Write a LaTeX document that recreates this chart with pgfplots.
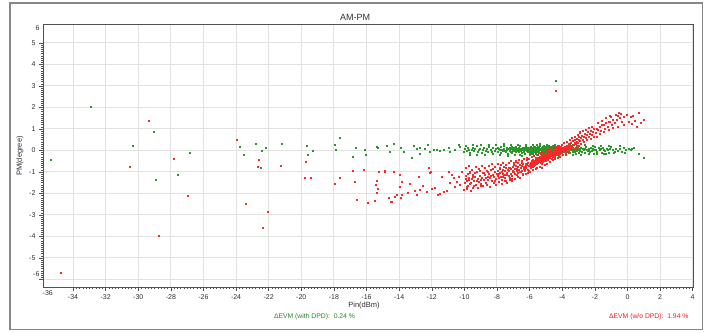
\documentclass[border=0pt]{standalone}
\usepackage{pgfplots}
\pgfplotsset{compat=1.18}
\usepackage{fontspec}
\setmainfont{Liberation Sans}
\definecolor{gridc}{RGB}{226,226,226}
\definecolor{axc}{RGB}{80,80,80}
\definecolor{txt}{RGB}{45,45,55}
\definecolor{gpt}{RGB}{40,150,40}
\definecolor{rpt}{RGB}{250,40,40}
\definecolor{frm}{RGB}{135,135,135}
\definecolor{gtxt}{RGB}{40,130,40}
\definecolor{rtxt}{RGB}{250,25,25}
\begin{document}
\begin{tikzpicture}[x=1pt,y=1pt]
\useasboundingbox (0,0) rectangle (709,332);
\draw[frm, line width=1.3pt] (10,2.5) rectangle (702.5,329);
\begin{axis}[
 at={(43pt,45pt)}, anchor=south west,
 width=650pt, height=263pt, scale only axis,
 xmin=-35.84, xmax=4.02, ymin=-6.35, ymax=5.88,
 xtick={-34,-32,...,4},
 xticklabels={-34,-32,-30,-28,-26,-24,-22,-20,-18,-16,-14,-12,-10,-8,-6,-4,-2,0,2,4},
 ytick={-6,-5,...,5},
 yticklabels={,-5,-4,-3,-2,-1,0,1,2,3,4,5},
 extra x ticks={-35.55}, extra x tick labels={-36},
 extra y ticks={-5.75,5.7}, extra y tick labels={-6,6},
 extra tick style={grid=none, major tick length=0pt},
 minor x tick num=9, minor y tick num=9,
 xtick pos=left, ytick pos=left,
 grid=major, major grid style={gridc, line width=1pt},
 axis line style={axc, line width=0.9pt},
 tick align=outside, major tick length=4pt, minor tick length=2pt,
 tick style={axc, line width=0.5pt},
 every tick label/.append style={font=\fontsize{7}{8}\selectfont, text=txt},
 /pgf/number format/assume math mode=true,
 clip=true,
]
% with DPD (green)
\addplot[only marks, mark=square*, mark size=0.5pt, color=gpt] coordinates {
(-32.9,2.04) (-30.32,0.20) (-29.03,0.87) (-35.35,-0.44) (-26.82,-0.09) (-28.93,-1.37) (-27.58,-1.14)
(-23.8,0.16) (-22.77,0.30) (-22.2,0.15) (-21.18,0.30) (-22.45,0.0) (-23.55,-0.22) (-22.5,-0.78)
(-19.66,0.22) (-19.3,-0.01) (-19.6,-0.18) (-17.97,0.27) (-17.62,0.57) (-17.9,0.05) (-4.41,3.23)
(-16.64,0.15) (-16.09,0.02) (-15.39,0.18) (-15.31,0.13) (-14.76,0.24) (-14.35,0.30) (-13.92,0.13)
(-13.73,-0.04) (-13.08,0.21) (-12.92,0.09) (-12.71,0.15) (-12.41,0.10) (-12.26,0.29) (-12.14,-0.05)
(-11.89,0.02) (-11.69,0.05) (-11.49,-0.01) (-11.28,0.02) (-10.97,0.15) (-10.87,-0.05) (-10.57,0.02)
(-10.36,0.29) (-10.26,0.18) (-10.05,-0.05) (-16.86,-0.29) (-16.03,-0.21) (-14.59,-0.07) (-13.26,-0.33) (-12.71,-0.13)
(-9.95,0.08) (-9.88,-0.03) (-9.81,0.12) (-9.74,0.02) (-9.66,-0.09) (-9.58,0.05) (-9.51,0.15) (-9.43,-0.02)
(-9.36,0.07) (-9.27,0.21) (-9.19,-0.06) (-9.12,0.03) (-9.03,0.10) (-8.96,-0.12) (-8.88,0.04) (-8.81,0.14)
(-8.72,0.00) (-8.64,0.09) (-8.57,-0.05) (-8.49,0.18) (-8.41,0.03) (-8.33,-0.08) (-8.25,0.11) (-8.16,0.01) (-8.07,0.06)
(-7.98,0.13) (-7.94,-0.04) (-7.89,0.07) (-7.85,0.02) (-7.79,-0.11) (-7.75,0.16) (-7.70,0.05) (-7.66,-0.02)
(-7.61,0.09) (-7.57,0.22) (-7.52,0.00) (-7.48,-0.07) (-7.43,0.11) (-7.39,0.04) (-7.34,-0.15) (-7.30,0.08)
(-7.25,0.01) (-7.21,0.14) (-7.17,-0.05) (-7.13,0.06) (-7.09,0.19) (-7.06,-0.01) (-7.03,0.10) (-7.01,0.03) (-7.12,-0.09)
(-6.98,0.05) (-6.95,0.12) (-6.92,-0.03) (-6.89,0.08) (-6.86,0.17) (-6.83,-0.08) (-6.80,0.02) (-6.77,0.10)
(-6.74,-0.01) (-6.71,0.06) (-6.68,0.14) (-6.65,-0.06) (-6.62,0.04) (-6.59,0.20) (-6.56,0.00) (-6.53,0.09)
(-6.50,-0.11) (-6.47,0.07) (-6.44,0.13) (-6.41,0.02) (-6.38,-0.04) (-6.35,0.11) (-6.32,0.05) (-6.29,-0.14)
(-6.26,0.08) (-6.23,0.16) (-6.20,0.01) (-6.17,0.06) (-6.14,-0.07) (-6.11,0.12) (-6.08,0.03) (-6.05,0.09)
(-6.03,-0.02) (-6.01,0.15) (-6.60,-0.19)
(-5.98,0.04) (-5.96,0.11) (-5.94,-0.05) (-5.92,0.07) (-5.90,0.01) (-5.88,0.14) (-5.86,-0.02) (-5.84,0.09)
(-5.82,0.03) (-5.80,-0.09) (-5.78,0.06) (-5.76,0.18) (-5.74,0.00) (-5.72,0.08) (-5.70,-0.04) (-5.68,0.12)
(-5.66,0.05) (-5.64,-0.12) (-5.62,0.02) (-5.60,0.10) (-5.58,0.07) (-5.56,-0.01) (-5.54,0.15) (-5.52,0.04)
(-5.50,-0.07) (-5.48,0.09) (-5.46,0.01) (-5.44,0.13) (-5.42,-0.03) (-5.40,0.06) (-5.38,0.21) (-5.36,0.02)
(-5.34,-0.10) (-5.32,0.08) (-5.30,0.03) (-5.28,0.11) (-5.26,-0.05) (-5.24,0.05) (-5.22,0.16) (-5.20,-0.01)
(-5.18,0.07) (-5.16,0.00) (-5.14,0.12) (-5.12,-0.08) (-5.10,0.04) (-5.08,0.10) (-5.06,-0.02) (-5.04,0.06)
(-5.02,0.14) (-5.01,-0.06) (-5.55,0.25) (-5.85,-0.17) (-5.27,-0.16) (-5.67,0.19) (-5.13,0.23)
(-4.99,0.05) (-4.97,-0.03) (-4.95,0.10) (-4.93,0.02) (-4.91,0.15) (-4.89,-0.07) (-4.87,0.06) (-4.85,0.01)
(-4.83,0.12) (-4.81,-0.02) (-4.79,0.08) (-4.77,0.04) (-4.75,-0.11) (-4.73,0.09) (-4.71,0.17) (-4.69,0.00)
(-4.67,0.06) (-4.65,-0.05) (-4.63,0.11) (-4.61,0.03) (-4.59,0.07) (-4.57,-0.08) (-4.55,0.13) (-4.53,0.02)
(-4.51,-0.01) (-4.49,0.09) (-4.47,0.05) (-4.45,0.18) (-4.43,-0.04) (-4.41,0.07) (-4.39,0.01) (-4.37,0.12)
(-4.35,-0.09) (-4.33,0.04) (-4.31,0.10) (-4.29,-0.02) (-4.27,0.06) (-4.25,0.14) (-4.23,0.00) (-4.21,0.08)
(-4.19,-0.06) (-4.17,0.03) (-4.15,0.11) (-4.13,0.05) (-4.11,-0.03) (-4.09,0.16) (-4.07,0.02) (-4.05,0.09)
(-4.03,-0.07) (-4.01,0.04) (-4.72,-0.18) (-4.26,0.22) (-4.84,0.24) (-4.52,-0.15) (-4.14,-0.14)
(-3.97,0.06) (-3.94,-0.02) (-3.91,0.11) (-3.88,0.03) (-3.85,-0.08) (-3.82,0.09) (-3.79,0.15) (-3.76,0.01)
(-3.73,0.07) (-3.70,-0.05) (-3.67,0.12) (-3.64,0.04) (-3.61,-0.01) (-3.58,0.10) (-3.55,0.05) (-3.52,-0.10)
(-3.49,0.08) (-3.46,0.18) (-3.43,0.02) (-3.40,0.06) (-3.37,-0.04) (-3.34,0.13) (-3.31,0.03) (-3.28,0.09)
(-3.25,-0.07) (-3.22,0.05) (-3.19,0.14) (-3.16,0.00) (-3.13,0.08) (-3.10,-0.03) (-3.07,0.11) (-3.04,0.04)
(-3.01,-0.12) (-3.60,0.21) (-3.20,-0.17)
(-2.95,0.07) (-2.90,0.01) (-2.85,0.13) (-2.80,-0.05) (-2.75,0.09) (-2.70,0.03) (-2.65,-0.10) (-2.60,0.06)
(-2.55,0.16) (-2.50,0.02) (-2.45,-0.03) (-2.40,0.10) (-2.35,0.05) (-2.30,-0.08) (-2.25,0.12) (-2.20,0.00)
(-2.15,0.07) (-2.10,-0.13) (-2.05,0.04) (-2.02,0.19)
(-1.93,0.05) (-1.86,-0.06) (-1.79,0.11) (-1.72,0.02) (-1.65,0.08) (-1.58,-0.09) (-1.51,0.14) (-1.44,0.03)
(-1.37,-0.02) (-1.30,0.09) (-1.23,0.05) (-1.16,-0.11) (-1.09,0.07) (-1.03,0.17) (-1.48,-0.15)
(-0.92,0.04) (-0.81,-0.05) (-0.70,0.10) (-0.58,0.01) (-0.46,0.08) (-0.35,-0.07) (-0.22,0.12) (-0.10,0.03)
(0.05,0.09) (0.17,0.02) (0.27,0.10) (0.68,-0.13) (0.99,-0.33)
(-9.90,0.24) (-9.70,-0.20) (-9.47,0.27) (-9.22,-0.18) (-8.99,0.26) (-8.76,-0.22) (-8.53,0.28) (-8.29,-0.17)
(-8.05,0.25) (-7.82,-0.21) (-7.59,0.30) (-7.36,-0.24) (-7.14,0.27) (-6.91,-0.20) (-6.70,0.26) (-6.46,-0.23)
(-6.24,0.29) (-6.02,-0.19) (-5.79,0.28) (-5.58,-0.22) (-5.36,0.30) (-5.15,-0.24) (-4.93,0.27) (-4.70,-0.21)
(-4.48,0.29) (-4.24,-0.23) (-4.02,0.26) (-3.80,-0.20) (-3.56,0.27) (-3.33,-0.19) (-3.09,0.24) (-2.86,-0.18)
(-2.62,0.25) (-2.38,-0.16) (-2.14,0.22) (-1.90,-0.17) (-1.62,0.23) (-1.35,-0.14) (-1.12,0.20) (-0.85,-0.12)
(-0.50,0.20) (-0.15,-0.10) (0.40,0.12)
(-5.97,-0.10) (-5.91,0.16) (-5.83,-0.13) (-5.75,0.12) (-5.69,0.03) (-5.61,-0.14) (-5.53,0.18) (-5.45,-0.09)
(-5.37,0.10) (-5.29,-0.12) (-5.21,0.19) (-5.11,-0.10) (-5.03,0.17) (-4.96,-0.12) (-4.88,0.19) (-4.80,-0.10)
(-4.74,0.15) (-4.66,-0.13) (-4.58,0.20) (-4.50,-0.09) (-4.42,0.15) (-4.34,-0.12) (-4.28,0.19) (-4.20,-0.10)
(-4.12,0.13) (-4.06,-0.11)
};
% without DPD (red)
\addplot[only marks, mark=square*, mark size=0.5pt, color=rpt] coordinates {
(-29.34,1.40) (-27.82,-0.38) (-30.52,-0.77) (-26.94,-2.12) (-28.77,-3.96) (-34.74,-5.67) (-23.96,0.49)
(-22.61,-0.43) (-22.69,-0.77) (-21.26,-0.72) (-19.72,-0.53) (-19.77,-1.25) (-19.42,-1.28) (-17.93,-1.56)
(-17.66,-1.29) (-23.4,-2.46) (-22.04,-2.83) (-22.34,-3.59) (-4.41,2.8)
(-16.86,-0.94) (-16.15,-0.91) (-15.23,-0.97) (-14.86,-0.98) (-14.35,-0.97) (-12.06,-1.0) (-16.7,-1.45)
(-15.37,-1.40) (-15.41,-1.60) (-15.31,-1.77) (-16.6,-2.27) (-15.94,-2.43) (-15.47,-2.33) (-14.65,-2.21)
(-14.45,-2.38) (-14.25,-2.15) (-13.84,-1.45) (-13.88,-2.18) (-13.33,-1.53) (-13.02,-1.87) (-12.81,-1.22)
(-12.71,-1.81) (-12.34,-1.90) (-12.2,-0.78) (-12.1,-1.03) (-11.99,-1.76) (-11.79,-1.71) (-11.65,-2.07)
(-11.49,-1.99) (-11.38,-1.22) (-11.28,-1.92) (-10.97,-0.98) (-10.87,-1.50) (-10.77,-1.14) (-10.67,-1.29)
(-10.57,-1.68) (-10.46,-1.45) (-10.36,-1.22) (-10.26,-1.60) (-10.16,-0.98) (-10.05,-1.84) (-9.85,-1.68)
(-9.75,-1.37) (-9.69,-0.98) (-15.37,-1.98) (-14.14,-2.07) (-14.5,-2.38) (-13.94,-1.14) (-13.94,-1.68)
(-13.84,-2.07) (-14.9,-0.96) (-12.55,-1.62) (-13.5,-1.95) (-11.1,-1.85) (-12.9,-2.05)
(-9.97,-1.52) (-9.91,-1.18) (-9.86,-1.41) (-9.80,-1.65) (-9.74,-1.27) (-9.69,-1.05) (-9.63,-1.48) (-9.57,-1.33)
(-9.51,-1.71) (-9.46,-1.12) (-9.40,-1.39) (-9.34,-1.22) (-9.28,-1.58) (-9.23,-0.98) (-9.17,-1.31) (-9.11,-1.45)
(-9.06,-1.17) (-9.00,-1.62) (-8.94,-1.26) (-8.89,-1.03) (-8.83,-1.38) (-8.77,-1.14) (-8.71,-1.49) (-8.66,-0.94)
(-8.60,-1.21) (-8.54,-1.35) (-8.49,-1.08) (-8.43,-1.29) (-8.37,-0.91) (-8.31,-1.43) (-8.26,-1.12) (-8.20,-1.24)
(-8.14,-0.99) (-8.09,-1.33) (-8.03,-1.06)
(-7.98,-1.18) (-7.94,-0.93) (-7.90,-1.27) (-7.86,-1.05) (-7.82,-0.84) (-7.78,-1.21) (-7.74,-0.99) (-7.70,-1.34)
(-7.66,-1.09) (-7.62,-0.88) (-7.58,-1.15) (-7.54,-0.96) (-7.50,-1.25) (-7.46,-0.81) (-7.42,-1.02) (-7.38,-1.13)
(-7.34,-0.90) (-7.30,-1.19) (-7.26,-0.95) (-7.22,-0.78) (-7.18,-1.07) (-7.14,-0.87) (-7.10,-1.16) (-7.06,-0.92)
(-7.02,-0.74) (-6.98,-1.01) (-6.94,-0.83) (-6.90,-1.09) (-6.86,-0.70) (-6.82,-0.94) (-6.78,-0.86) (-6.74,-1.03)
(-6.70,-0.76) (-6.66,-0.89) (-6.62,-0.65) (-6.58,-0.97) (-6.54,-0.80) (-6.50,-0.71) (-6.46,-0.92) (-6.42,-0.63)
(-6.38,-0.84) (-6.34,-0.75) (-6.30,-0.95) (-6.26,-0.60) (-6.22,-0.79) (-6.18,-0.68) (-6.14,-0.88) (-6.10,-0.57)
(-6.06,-0.73) (-6.02,-0.64) (-7.48,-1.42) (-7.12,-1.30) (-6.88,-0.52) (-6.40,-1.08) (-6.20,-0.45)
(-5.98,-0.72) (-5.96,-0.55) (-5.94,-0.81) (-5.92,-0.62) (-5.90,-0.48) (-5.88,-0.69) (-5.86,-0.58) (-5.84,-0.77)
(-5.82,-0.51) (-5.80,-0.64) (-5.78,-0.43) (-5.76,-0.70) (-5.74,-0.56) (-5.72,-0.60) (-5.70,-0.47) (-5.68,-0.66)
(-5.66,-0.52) (-5.64,-0.39) (-5.62,-0.59) (-5.60,-0.45) (-5.58,-0.63) (-5.56,-0.50) (-5.54,-0.36) (-5.52,-0.55)
(-5.50,-0.42) (-5.48,-0.57) (-5.46,-0.48) (-5.44,-0.33) (-5.42,-0.53) (-5.40,-0.40) (-5.38,-0.46) (-5.36,-0.29)
(-5.34,-0.50) (-5.32,-0.37) (-5.30,-0.43) (-5.28,-0.31) (-5.26,-0.47) (-5.24,-0.26) (-5.22,-0.39) (-5.20,-0.34)
(-5.18,-0.44) (-5.16,-0.28) (-5.14,-0.36) (-5.12,-0.22) (-5.10,-0.41) (-5.08,-0.30) (-5.06,-0.35) (-5.04,-0.19)
(-5.02,-0.32) (-5.00,-0.25) (-4.98,-0.38) (-4.96,-0.21) (-4.94,-0.29) (-4.92,-0.16) (-4.90,-0.33) (-4.88,-0.24)
(-4.86,-0.27) (-4.84,-0.13) (-4.82,-0.30) (-4.80,-0.18) (-4.78,-0.22) (-4.76,-0.10) (-4.74,-0.26) (-4.72,-0.15)
(-4.70,-0.19) (-4.67,-0.07) (-4.64,-0.23) (-4.61,-0.12) (-4.58,-0.16) (-4.55,-0.04) (-4.52,-0.18) (-4.49,-0.09)
(-4.46,-0.13) (-4.43,0.00) (-4.40,-0.15) (-4.37,-0.05) (-4.34,-0.10) (-4.31,0.03) (-4.28,-0.08) (-4.25,-0.02)
(-4.22,0.06) (-4.19,-0.11) (-4.16,0.01) (-4.13,0.08) (-4.10,-0.04) (-4.07,0.04) (-4.04,0.11) (-4.02,-0.01)
(-5.65,-0.85) (-5.25,-0.62)
(-3.98,0.05) (-3.94,-0.06) (-3.90,0.13) (-3.86,0.02) (-3.82,0.19) (-3.78,-0.03) (-3.74,0.10) (-3.70,0.24)
(-3.66,0.07) (-3.62,0.16) (-3.58,0.30) (-3.54,0.12) (-3.50,0.22) (-3.46,0.38) (-3.42,0.18) (-3.38,0.29)
(-3.34,0.45) (-3.30,0.25) (-3.26,0.36) (-3.22,0.50) (-3.18,0.31) (-3.14,0.43) (-3.10,0.56) (-3.06,0.37)
(-3.02,0.48) (-2.98,0.62) (-2.92,0.44) (-2.86,0.57) (-2.80,0.70) (-2.74,0.51) (-2.68,0.64) (-2.62,0.78)
(-2.56,0.59) (-2.50,0.72) (-2.44,0.86) (-2.38,0.66) (-2.32,0.80) (-2.26,0.93) (-2.20,0.74) (-2.14,0.88)
(-2.08,1.00) (-3.60,-0.12) (-3.20,0.08) (-2.90,0.85) (-2.40,1.05)
(-1.95,0.83) (-1.87,1.03) (-1.80,0.96) (-1.72,1.12) (-1.64,0.90) (-1.55,1.21) (-1.47,1.19) (-1.40,1.02)
(-1.31,1.28) (-1.22,1.10) (-1.14,1.36) (-1.06,1.34) (-0.97,1.18) (-0.88,1.45) (-0.79,1.27) (-0.65,1.42)
(-0.54,1.76) (-0.45,1.50) (-0.34,1.34) (-0.20,1.58) (-0.03,1.65) (0.17,1.57) (0.27,1.23) (0.45,1.40)
(0.68,1.76) (0.99,1.45) (-0.60,1.62) (-1.00,1.55)
(-9.93,-0.82) (-9.84,-1.77) (-9.72,-0.71) (-9.61,-1.88) (-9.55,-0.88) (-9.44,-1.62) (-9.32,-0.77) (-9.21,-1.74)
(-9.14,-0.85) (-9.02,-1.55) (-8.92,-0.72) (-8.85,-1.66) (-8.74,-0.80) (-8.63,-1.58) (-8.52,-0.69) (-8.45,-1.70)
(-8.35,-0.63) (-8.22,-1.51) (-8.12,-0.75) (-8.05,-1.60)
(-7.96,-0.60) (-7.88,-1.47) (-7.80,-0.68) (-7.71,-1.55) (-7.63,-0.57) (-7.55,-1.40) (-7.47,-0.64) (-7.39,-1.49)
(-7.31,-0.55) (-7.23,-1.36) (-7.15,-0.50) (-7.07,-1.43) (-6.99,-0.58) (-6.91,-1.30) (-6.83,-0.46) (-6.75,-1.22)
(-6.67,-0.41) (-6.59,-1.27) (-6.51,-0.49) (-6.43,-1.15) (-6.35,-0.38) (-6.27,-1.10) (-6.19,-0.33) (-6.11,-1.04)
(-6.04,-0.40)
(-9.89,-1.30) (-9.77,-1.10) (-9.66,-1.56) (-9.49,-1.22) (-9.37,-1.02) (-9.26,-1.41) (-9.09,-0.95) (-8.97,-1.36)
(-8.80,-1.02) (-8.69,-1.26) (-8.58,-0.98) (-8.40,-1.16) (-8.29,-0.87) (-8.17,-1.39) (-7.92,-1.06) (-7.84,-0.79)
(-7.67,-1.24) (-7.59,-0.75) (-7.44,-1.12) (-7.28,-0.82) (-7.20,-1.28) (-7.04,-0.97) (-6.96,-0.66) (-6.80,-1.15)
(-6.72,-0.59) (-6.56,-1.01) (-6.48,-0.56) (-6.32,-0.89) (-6.24,-0.69) (-6.08,-0.93)
(-5.97,-0.98) (-5.89,-0.30) (-5.81,-0.90) (-5.73,-0.25) (-5.65,-0.35) (-5.57,-0.82) (-5.49,-0.20) (-5.41,-0.75)
(-5.33,-0.15) (-5.25,-0.80) (-5.17,-0.08) (-5.09,-0.66) (-5.01,-0.02) (-4.93,-0.60) (-4.85,0.05) (-4.77,-0.52)
(-4.69,0.10) (-4.61,-0.45) (-4.53,0.14) (-4.45,-0.40) (-4.37,0.19) (-4.29,-0.33) (-4.21,0.24) (-4.13,-0.28)
(-4.05,0.27)
(-5.35,-0.58) (-5.29,-0.12) (-5.21,-0.52) (-5.15,-0.48) (-5.07,-0.14) (-5.03,-0.50) (-4.97,-0.45) (-4.91,-0.06)
(-4.87,-0.42) (-4.79,-0.35) (-4.73,-0.01) (-4.66,-0.38) (-4.59,-0.30) (-4.51,0.04) (-4.47,-0.30) (-4.41,-0.22)
(-4.33,0.12) (-4.27,-0.20) (-4.18,-0.17) (-4.11,0.16)
(-3.96,-0.22) (-3.88,0.35) (-3.80,-0.15) (-3.72,0.42) (-3.64,-0.08) (-3.56,0.50) (-3.48,0.02) (-3.40,0.58)
(-3.32,0.08) (-3.24,0.66) (-3.16,0.15) (-3.08,0.75) (-3.00,0.24) (-2.94,0.82) (-2.84,0.32) (-2.76,0.90)
(-2.66,0.42) (-2.58,0.98) (-2.48,0.50) (-2.36,1.08) (-2.28,0.56) (-2.18,1.12) (-2.10,0.64)
(-1.91,0.62) (-1.83,1.30) (-1.68,0.78) (-1.58,1.40) (-1.44,0.86) (-1.35,1.50) (-1.18,0.95) (-1.10,1.60)
(-0.92,1.05) (-0.75,1.68) (-0.60,1.12) (-0.40,1.72) (-0.25,1.20) (0.05,1.35) (0.35,1.62) (0.55,1.10) (0.82,1.30)
};
\end{axis}
\node[font=\fontsize{9}{10}\selectfont, text=txt] at (355,315) {AM-PM};
\node[font=\fontsize{7.5}{9}\selectfont, text=txt] at (364,26) {Pin(dBm)};
\node[font=\fontsize{7.5}{9}\selectfont, text=txt, rotate=90] at (20,176) {PM(degree)};
\node[font=\fontsize{6.8}{8}\selectfont, text=gtxt] at (314.5,15.3) {ΔEVM (with DPD):\ \ 0.24 \%};
\node[font=\fontsize{6.8}{8}\selectfont, text=rtxt, anchor=east] at (692,15.3) {ΔEVM (w/o DPD):\ \ 1.94 \%};
\end{tikzpicture}
\end{document}
